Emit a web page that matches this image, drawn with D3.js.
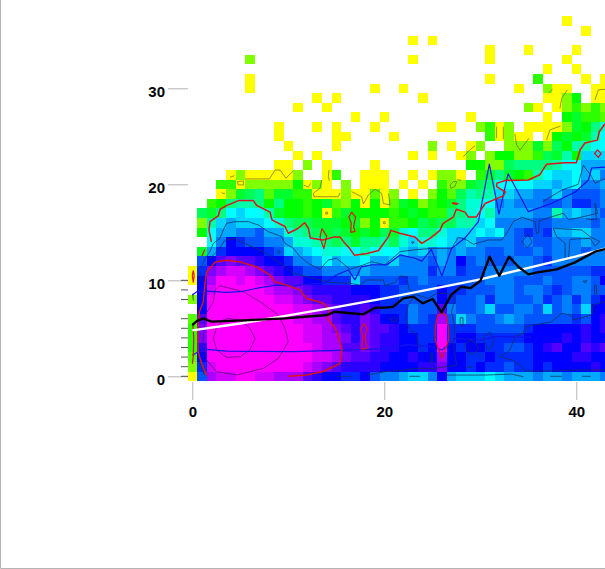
<!DOCTYPE html>
<html><head><meta charset="utf-8">
<script src="https://cdn.jsdelivr.net/npm/d3@7"></script>
<style>html,body{margin:0;padding:0;background:#fff;overflow:hidden}svg{display:block}</style>
</head><body><svg id="c" width="605" height="569"></svg>
<script>
const xTicks=[0,20,40];
const yTicks=[0,10,20,30];
const rugValues=[0,1,2,3,4,5,6,8,9,10];
// heat levels by row, top row = y 37, one char per x (0..43): '.' empty, 0-9 a-o density level
const heatRows=[
".......... .......... .......... .........0",
".......... .......... .......... .......... .0",
".......... .......... ...0.0....",
".......... .......... .......... .0...0.... 0",
"......3... .......... ...0...... .0.......0",
".......... .......... .......... .......0.. 0",
"......0... .......... .......... .0....5... .0.0",
"......0... .........0 ..0....... ....0..300 ..00",
".......... ...0.0.... ....0..... .......003 6.00",
".......... .0..0..... .......... .....30.03 5353",
".......... .......0.. 0........0 .......0.6 7554",
".........0 ...0.0...0 ......00.. 3503.00003 769b",
".........0 .....00... .0........ .50300.067 67ac",
".......... 0....0.... .....3.0.0 3..3337386 aacc",
".......... .0.0...... ...0.0..03 .36633587a 6ddd",
".........0 0.3.0....0 .........6 63389999ac ceee",
"....030000 03..05..00 0..0.0330. 579765acdd cedf",
"...5503333 36030.3.00 0.0.0.5337 89ccccdded cffe",
"...0378947 7550003004 03.0.3648a 9addeeffdf gggf",
"..569aa969 6656743606 047635679b bcfefffggf hhgf",
".879cdcca7 6656057666 656765599b caeeeeffae defg",
".3adedddcb 9887776736 05568788aa dcffffggff ffgf",
".6ceeffgee ba98787676 87bc99bddd cdcfghghee ddff",
"..cfihggff ebba989799 a8bdbbcded ffffgfggff feff",
".7ehiiiihg dedcbbccac ccdedfefef fggfggfgff fgff",
".giklkkjii hffeceddce edfffgefig fgggffghff ffff",
"0hlmnnmlkj ihggffffef fffffhffhg gfffffgggg gghh",
"0imoononml kkiihhhdgg gghgfggggg gfffgggfgg ffgi",
".inooooonm mlkjjjjiii hhggggihhg ggffgffghg ffgg",
"3iooooooon nmlkkjjjji hhggggihgg fhffggfhgf hfhi",
".ioooooooo onnmlkjjkj hhhfggkfgg fdggffgdgf gdii",
"4koooooooo onnmmkjjlk iihfghmgdf ggfefggggg hgij",
"5loooooooo oonnmlkjlk kjihhhohhh ggggghiiii ijij",
"5loooooooo oonnmmljlk jjiihhohii hhhhhiiiij ijii",
"5joooooooo ooonmmkklk jjiihioihi ihhgghijki ikjk",
"4ioooooooo ooonnmlkkj jiijiimiih hihhhhiiii jjii",
"3hnooooooo oonmlkjjjj iiiijjliih ihhghhihii iiji",
"0gmnnoonnm mmkjiihhig ffeddfiedd dcdeeefeef eeef"
];
const redOuter=[[2,14],[1.74,15.2],[1.84,16.1],[2.7,16.7],[2.9,17.4],[3.6,17.8],[4.8,18.3],[6.35,18.3],[6.7,17.8],[8.1,17.1],[8.3,16.3],[9.65,15.6],[10,14.9],[11,15.4],[11.7,16],[12.1,15.4],[12.3,14.4],[13.6,14.2],[14.7,14.5],[15.4,14.5],[15.9,13.85],[16.4,13.3],[16.9,12.6],[18.2,12.8],[19.4,13.1],[20.4,14.5],[20.7,15.2],[21.6,14.9],[23.2,14.5],[23.9,13.85],[24.8,14.4],[25.8,15.2],[26.1,15.9],[27.2,16.6],[27.5,17.4],[28.4,17.1],[28.75,16.6],[29.6,16.6],[30.5,18],[32.4,18.8],[32.6,19.2],[31.7,19.75],[31.7,20.1],[32.6,20.4],[35,20.45],[36.2,21],[36.9,22.1],[38.8,22.25],[40,22.25],[40.4,23.6],[40.9,24.3],[42.2,24.6],[42.4,25.5],[43,26.3]];
const redInner=[[1.5,0.1],[1,1.2],[0.6,2.6],[0.56,5],[0.73,6.7],[1.15,7.8],[1.3,9.5],[1.5,10.9],[2.4,11.9],[3.6,12.1],[5,11.9],[6.7,11.4],[8.1,10.55],[8.6,9.85],[9.8,9.5],[11.2,9],[11.9,8.1],[13.65,7.6],[14.3,6.9],[14.1,6],[14.9,5],[15.6,2.9],[15.4,1.35],[13.65,0.5],[11.9,0.14],[10,0]];
const redLoops=[
[[17.9,5.5],[18.2,5],[18,4.1],[18.2,2.9],[17.65,2.8],[17.75,4.1],[17.55,5],[17.9,5.5]],
[[26,6.7],[26.5,6.2],[26.7,5],[26.7,3.8],[26.4,2.9],[26,1.9],[25.6,2.9],[25.3,3.8],[25.3,5],[25.5,6.2],[26,6.7]],
[[16.6,17.1],[17,16.6],[16.8,15.6],[16.95,15.1],[16.5,15],[16.55,16],[16.3,16.6],[16.6,17.1]],
[[13.5,15.4],[14,14.6],[13.7,13.3],[13.3,14.5],[13.5,15.4]],
[[27.2,18.1],[27.7,18],[27.5,17.9],[27.1,18],[27.2,18.1]],
[[42.2,23.6],[42.6,23.2],[42.3,22.8],[41.9,23.2],[42.2,23.6]],
[[1,12.5],[1.3,13.2]],
[[0.1,11],[0.2,10.5],[0.1,9.8],[0,10.5],[0.1,11]],
[[0.05,5.5],[0.15,4],[0.1,2],[0,1.3]]
];
const darkPurple=[
[[2.89,9.44],[5.32,8.81],[7.06,7.77],[8.97,6.38],[9.66,4.99],[10,3.6],[8.97,1.87],[7.4,0.83],[4.63,0.13],[2.54,0.48],[1.33,1.87],[1.15,3.95],[1.33,6.38],[2.2,7.77],[2.37,8.98],[2.89,9.44]],
[[3.76,6.03],[4.97,5.86],[6,5],[6.54,3.95],[6,2.73],[4.97,2.04],[3.58,1.97],[2.54,2.73],[2.2,3.95],[2.54,5.17],[3.24,5.86],[3.76,6.03]]
];
const darkLines=[
[[0.9,11.25],[1.32,12.29],[1.84,12.98],[2.19,13.85],[2.89,14.37],[3.23,15.24],[3.58,15.94],[4.45,16.11],[5.84,16.11],[6.88,15.76],[7.92,15.07],[9.31,14.55],[9.66,13.85],[10.52,13.33],[11.22,12.47],[12.09,11.77],[13.3,11.14],[14.17,12.12],[15.04,12.29],[16.43,11.14],[17.82,11.6],[18.7,11.94],[20.07,11.6],[21.64,12.98],[23.03,13.16],[24.94,13.33],[27.02,13.33],[27.71,14.48],[28.58,14.2],[29.28,13.75],[30.84,14.2],[32.23,14.2],[32.75,14.9],[33.44,16.11],[34.31,16.56],[35.7,16.11],[35.85,14.9],[36.05,14.9],[36.15,16.2],[36.92,16.46],[38.65,16.98],[39.2,16.3],[40.6,16.6],[42.2,16.98],[41.95,18],[42.1,16.3],[41,16.4]],
[[1.85,12.28],[2.72,13.15],[3.41,14.19],[4.45,14.37],[5.84,13.67],[7.4,12.98],[8.45,12.28],[9.66,11.41],[10.53,10.72],[12.61,10.2],[14.35,9.78],[16.43,9.68],[17.47,9.5],[18.16,10.03],[19.9,10.03],[20.07,9.44],[21.1,9.78],[21.63,10.44],[22.33,10.37],[22.57,9.16],[23.2,8.53],[24.6,8.12],[25.45,8.64],[26.67,8.64],[27.36,8.12],[27,6.73],[27.36,5],[27.19,3.25],[27.54,1.17],[25.28,0.83],[23.2,0.83],[22.15,0.65],[20.07,0.48],[18.2,0.13]],
[[23.2,8.53],[22.5,7.42],[22.2,6.03],[22.57,5],[23.37,4.3],[23.55,3.25],[24.06,2.56]],
[[36.5,18.2],[38.5,19.4],[40.2,20],[40.73,22],[41.6,20.8],[41.94,20.1],[43,20.6]],
[[37.6,15.42],[40.56,15.24],[41.43,14.55],[42.47,14.03],[41.95,13.57],[41.43,14.37],[39.35,14.27],[39.17,12.12],[38.83,12.12],[38.83,13.85],[37.96,14.55],[37.6,15.42]],
[[43,7.77],[41.77,7.43],[41.6,6.39],[39.69,5.86],[39.51,6.39],[38.47,6.56],[37.43,5.69],[36.04,5.41],[34.65,5.17],[34.48,4.48],[33.61,4.13],[33.09,2.74],[32.05,2.04],[33.27,1.7],[34.13,1.18],[34.65,0.55],[36.74,0.55],[40.2,0.66],[43,0.66]],
[[28.4,3.26],[28.9,3.78],[29.6,3.43],[29.8,2.74],[29.1,2.29],[28.6,2.57],[28.4,3.26]],
[[29.8,2.4],[30.3,1.9]],
[[30.3,4.13],[31,4.65],[31.46,3.78],[31,2.74],[30.66,2.91],[30.3,4.13]],
[[34.3,14],[35,14.8],[35.4,14],[34.9,13.4],[34.3,14]],
[[26.5,0.13],[30.5,0.13],[33.26,0.23],[34.5,-0.05]],
[[22.6,0],[23.7,0]],[[37.3,0],[38.5,0]],[[40.6,0],[41.5,0]],[[15,0],[16.5,0]],
[[27.9,6.1],[28.2,6.1],[28.2,5.3],[27.9,5.3],[27.9,6.1]],
[[20.5,6],[21,6.2],[21.4,5.9],[20.9,5.7],[20.5,6]],
[[24.85,2.4],[25,2.4],[25,1.4],[24.85,1.4],[24.85,2.4]],
[[28.6,0.95],[29.2,0.95]],
[[40.7,9.9],[41.1,9.95],[40.9,9.7],[40.7,9.9]],
[[41.9,9.5],[42.1,9.5],[42.1,8.6],[41.9,8.6],[41.9,9.5]],
[[9,13.1],[9.2,12.9],[9,12.75],[8.85,12.9],[9,13.1]],
[[22.85,14],[23.1,14],[22.95,13.8],[22.85,14]],
[[0.8,10.9],[0.9,9.9]],[[0.7,1.7],[1,0.8],[1.3,0.1]],[[0.05,8.6],[0.1,7.9]]
];
const oliveLines=[
[[5.49,20.56],[8.03,20.56],[8.62,21.49],[9.14,21.49],[9.76,20.63],[10.53,21.42]],
[[4.69,20.28],[5.32,20.35],[5.32,19.93],[4.8,19.93],[4.69,20.28]],
[[3.93,20.73],[4.38,20.9]],[[3.06,19.13],[3.41,19]],
[[11.57,19.93],[12.09,19.7],[12.33,20.1]],
[[13.48,20.45],[13.3,19.58],[12.6,19.06],[12.68,18.7],[15.2,18.7],[15.39,19.13]],
[[14.24,21.49],[14.17,20.8],[14.28,20.38]],
[[16.6,19.23],[17.64,18.7],[17.82,17.95],[18.34,18.89],[19.03,19.48],[19.73,19.06],[19.9,18],[20.6,17.85],[20.43,19.06]],
[[13.9,17.1],[14.1,17.1],[14.1,16.9],[13.9,16.9],[13.9,17.1]],
[[19.9,16.1],[20.1,16.1],[20.1,15.9],[19.9,15.9],[19.9,16.1]],
[[37.08,29.48],[37.53,29.9]],
[[38.3,27.9],[38.47,28.96],[39.06,29.83]],
[[41.94,28.78],[42.29,29.83],[43,29.9]],
[[36.9,24.6],[37.25,25.66],[38.37,26.08]],
[[31.7,26],[31.7,24.8]],[[32.4,26],[32.4,24.7]],
[[33.61,25.24],[33.78,24.1],[34.13,23.57],[35.07,24.79]],
[[28.23,22.88],[28.92,23.6],[29.44,23.99]],
[[26.84,19.93],[27.19,20.28],[27.53,20.28],[27.36,19.76],[26.94,19.58],[26.84,19.93]],
[[27.6,20.5],[28,20.4]]
];
const blueUpper=[[0,8.46],[0.46,8.8],[1.5,8.88],[3.58,8.74],[4.97,8.81],[7.06,9.23],[8.8,9.5],[10.5,9.4],[12,9.6],[13.8,9.7],[15,10.55],[16.25,11.08],[16.95,10.05],[17.6,11.4],[18.7,11.6],[20.25,11.6],[21.64,12.64],[22.7,12.4],[23.2,12.3],[23.9,12],[24.9,13.2],[26,10.45],[27,13.3],[28.4,14.4],[29.8,16.1],[30.94,22.1],[31.95,16.9],[32.9,21.1],[35,17.15],[37.4,18],[39.9,19.2],[41.26,20.45],[41.6,21.7],[43,21.8]];
const blueLower=[[0,2.2],[1.15,2.84],[3.58,2.63],[10.5,2.56],[18.5,2.8],[20.6,2.9],[22.3,3.3],[24.8,3.1],[26,2.74],[26.85,3.4],[27.4,3.95],[30.1,3.78],[31.5,4.13],[33.3,4.13],[35.3,4.06]];
const meanLine=[[0,5.34],[0.46,5.75],[1.15,6.03],[2,5.7],[5.32,5.83],[9.66,6.03],[14,6.38],[14.87,6.73],[17.8,6.45],[19.04,7.14],[20.07,7.15],[20.94,7.25],[21.98,8.12],[23.02,8.3],[24,7.6],[25.03,8.05],[25.97,6.66],[26.95,8.46],[27.99,9.33],[29,9.19],[30.03,9.96],[30.97,12.46],[31.98,10.48],[32.99,12.46],[33.96,11.41],[35,10.62],[35.97,10.82],[37.95,11.14],[39.86,11.87],[41.94,12.98],[43,13.25]];
const fitLine=[[0,4.78],[5,5.5],[10,6.35],[15,7.2],[20,8.12],[25,9.1],[30,10.1],[35,11.3],[40,12.5],[43,13.3]];

const svg=d3.select("#c");
const x=d3.scaleLinear().domain([0,40]).range([192.3,576.3]);
const y=d3.scaleLinear().domain([0,30]).range([376.3,88.3]);
const hue=d3.scaleLinear().domain([0,24]).range([60,300]);
const colour=l=>d3.hsl(hue(l),1,0.5).formatHex();
const cells=[];
heatRows.forEach((s,i)=>{
  const r=heatRows.length-1-i;
  Array.from(s.replace(/ /g,"")).forEach((ch,c)=>{
    if(ch!==".")cells.push({c,r,l:parseInt(ch,36)});
  });
});
svg.append("g").selectAll("rect").data(cells).join("rect")
  .attr("x",d=>x(d.c-.5)).attr("y",d=>y(d.r+.5))
  .attr("width",d=>x(d.c+.5)-x(d.c-.5)).attr("height",d=>y(d.r-.5)-y(d.r+.5))
  .attr("fill",d=>colour(d.l)).attr("shape-rendering","crispEdges");

const line=d3.line().x(d=>x(d[0])).y(d=>y(d[1]));
const draw=(sets,stroke,w,op=1)=>svg.append("g").attr("fill","none").attr("stroke",stroke).attr("stroke-width",w).attr("stroke-opacity",op)
  .attr("stroke-linejoin","round").selectAll("path").data(sets).join("path").attr("d",line);
draw(oliveLines,"#5a5a20",0.8,0.8);
draw(darkLines,"#16305a",0.9,0.85);
draw(darkPurple,"#4a1060",0.8,0.85);
draw([blueUpper,blueLower],"#1414e6",1.2);
draw([redOuter,redInner],"#dc1414",1.5);
draw(redLoops,"#dc1414",1.2);
draw([fitLine],"#ffffff",2.4);
draw([meanLine],"#000000",2.4);

const yAxis=svg.append("g").attr("transform","translate(188,0)")
  .call(d3.axisLeft(y).tickValues(yTicks).tickSize(20).tickPadding(3));
const xAxis=svg.append("g").attr("transform","translate(0,382)")
  .call(d3.axisBottom(x).tickValues(xTicks).tickSize(18).tickPadding(6));
[yAxis,xAxis].forEach(a=>{
  a.select(".domain").remove();
  a.selectAll("line").attr("stroke","#b4b4b4");
  a.selectAll("text").attr("fill","#000").style("font","bold 15px 'Liberation Sans',Arial,sans-serif");
});
yAxis.selectAll("text").attr("dy","0.52em");
svg.append("g").selectAll("line").data(rugValues).join("line")
  .attr("x1",181).attr("x2",188).attr("y1",d=>y(d)).attr("y2",d=>y(d))
  .attr("stroke","#555").attr("stroke-width",1);
svg.append("path").attr("d","M0.5,0V568.5H605").attr("fill","none").attr("stroke","#b4b4b4");
</script></body></html>
